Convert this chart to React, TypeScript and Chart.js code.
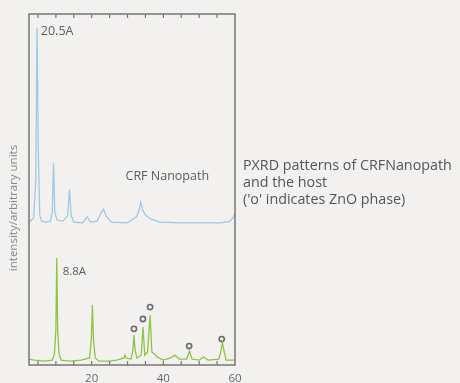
import React, { useEffect, useRef } from "react";
import { Chart, registerables } from "chart.js";

Chart.register(...registerables);

// CRF Nanopath pattern (blue), 2-theta vs. intensity (arbitrary units, offset trace)
const nanopathX = [2.5, 3.8, 4.4, 4.75, 5.1, 5.5, 6.0, 7.0, 8.5, 9.0, 9.35, 9.7, 10.3, 12.0, 13.3, 13.8, 14.3, 15.0, 17.5, 18.7, 19.7, 21.5, 22.6, 23.3, 24.0, 25.5, 30.0, 32.5, 33.3, 33.7, 34.2, 35.0, 36.5, 39.0, 45.0, 52.0, 56.0, 58.5, 59.5, 60.0];
const nanopathY = [40.7, 41.9, 52.7, 96.0, 61.3, 42.7, 41.0, 40.7, 41.0, 43.6, 57.5, 43.6, 41.3, 41.0, 42.5, 49.9, 42.5, 40.7, 40.5, 42.2, 40.7, 41.0, 43.3, 44.4, 42.5, 40.7, 40.5, 42.2, 44.2, 46.4, 44.2, 42.7, 41.6, 40.7, 40.5, 40.5, 40.5, 40.9, 42.0, 43.3];

// Host pattern (green)
const hostX = [2.5, 4.0, 7.0, 9.0, 9.6, 10.0, 10.25, 10.5, 10.9, 11.5, 14.0, 17.0, 19.4, 19.9, 20.2, 20.5, 21.0, 22.0, 25.0, 27.0, 29.0, 29.3, 29.6, 31.0, 31.5, 31.8, 32.1, 32.6, 33.8, 34.35, 34.8, 35.6, 36.3, 36.8, 37.6, 38.2, 40.0, 42.0, 43.2, 44.5, 46.5, 47.3, 48.0, 50.0, 51.2, 52.5, 55.5, 56.0, 56.5, 57.0, 57.5, 60.0];
const hostY = [1.7, 1.4, 1.1, 1.4, 3.1, 10.0, 30.5, 10.0, 3.1, 1.4, 1.1, 1.4, 2.0, 7.1, 17.1, 7.1, 2.0, 1.1, 1.1, 1.4, 2.0, 2.8, 2.0, 1.7, 4.3, 8.5, 4.3, 2.0, 2.8, 10.8, 2.8, 3.7, 14.2, 3.7, 3.1, 2.3, 1.4, 2.0, 2.8, 1.7, 1.7, 4.0, 1.7, 1.4, 2.3, 1.4, 1.7, 3.7, 6.3, 3.7, 1.4, 1.4];

// ZnO phase markers ('o')
const znoX = [31.8, 34.3, 36.3, 47.2, 56.3];
const znoY = [10.3, 13.1, 16.5, 5.4, 7.4];

// Axis ticks
const xTickValues = [5, 10, 15, 20, 25, 30, 35, 40, 45, 50, 55, 60];
const xTickLabels = [20, 40, 60];

const captionLines = ["PXRD patterns of CRFNanopath", "and the host", "('o' indicates ZnO phase)"];

const FONT = "'Open Sans', 'Noto Sans', sans-serif";

export default function App() {
  const ref = useRef<HTMLCanvasElement | null>(null);

  useEffect(() => {
    const canvas = ref.current;
    if (!canvas) return;

    const decor = {
      id: "decor",
      beforeDraw(chart: any) {
        const ctx = chart.ctx;
        ctx.save();
        ctx.fillStyle = "#f2f1ef";
        ctx.fillRect(0, 0, chart.width, chart.height);
        ctx.restore();
      },
      afterDatasetsDraw(chart: any) {
        const ctx = chart.ctx;
        const a = chart.chartArea;
        const xs = chart.scales.x;
        const ys = chart.scales.y;
        ctx.save();
        // frame
        ctx.strokeStyle = "#767676";
        ctx.lineWidth = 1.5;
        ctx.strokeRect(a.left, a.top, a.right - a.left, a.bottom - a.top);
        // inward tick marks top & bottom
        ctx.lineWidth = 1.2;
        xTickValues.forEach((v) => {
          if (v >= 60) return;
          const px = xs.getPixelForValue(v);
          ctx.beginPath();
          ctx.moveTo(px, a.bottom);
          ctx.lineTo(px, a.bottom - 4);
          ctx.moveTo(px, a.top);
          ctx.lineTo(px, a.top + 4);
          ctx.stroke();
        });
        // annotations
        ctx.fillStyle = "#5e5e5e";
        ctx.textBaseline = "middle";
        ctx.textAlign = "left";
        ctx.font = `12.5px ${FONT}`;
        ctx.fillText("20.5A", xs.getPixelForValue(5.8), ys.getPixelForValue(94.9));
        ctx.font = `11.5px ${FONT}`;
        ctx.fillText("8.8A", xs.getPixelForValue(11.9), ys.getPixelForValue(26.5));
        ctx.textAlign = "center";
        ctx.font = `12.5px ${FONT}`;
        ctx.fillText("CRF Nanopath", xs.getPixelForValue(41.1), ys.getPixelForValue(53.6));
        // y axis title
        ctx.save();
        ctx.translate(14, 208);
        ctx.rotate(-Math.PI / 2);
        ctx.fillStyle = "#858585";
        ctx.font = `11.5px ${FONT}`;
        ctx.textAlign = "center";
        ctx.fillText("intensity/arbitrary units", 0, 0);
        ctx.restore();
        // caption on the right
        ctx.fillStyle = "#555555";
        ctx.textAlign = "left";
        ctx.font = `14.3px ${FONT}`;
        captionLines.forEach((t, i) => {
          ctx.fillText(t, 243, 166 + i * 17);
        });
        ctx.restore();
      },
    };

    const chart = new Chart(canvas, {
      type: "line",
      data: {
        datasets: [
          {
            label: "CRF Nanopath",
            data: nanopathX.map((x, i) => ({ x, y: nanopathY[i] })),
            borderColor: "#9fc8e2",
            borderWidth: 1.3,
            pointRadius: 0,
            tension: 0,
            fill: false,
          },
          {
            label: "host",
            data: hostX.map((x, i) => ({ x, y: hostY[i] })),
            borderColor: "#8cc545",
            borderWidth: 1.3,
            pointRadius: 0,
            tension: 0,
            fill: false,
          },
          {
            type: "scatter",
            label: "ZnO",
            data: znoX.map((x, i) => ({ x, y: znoY[i] })),
            showLine: false,
            pointRadius: 2.6,
            pointStyle: "circle",
            pointBackgroundColor: "rgba(0,0,0,0)",
            pointBorderColor: "#6a6a6a",
            pointBorderWidth: 1.6,
          } as any,
        ],
      },
      options: {
        animation: false,
        responsive: false,
        devicePixelRatio: 1,
        layout: { padding: { left: 29, right: 225, top: 14, bottom: 0 } },
        plugins: { legend: { display: false }, tooltip: { enabled: false } },
        scales: {
          x: {
            type: "linear",
            min: 2.5,
            max: 60,
            grid: { display: false, drawTicks: false },
            border: { display: false },
            afterBuildTicks: (s: any) => {
              s.ticks = xTickValues.map((v) => ({ value: v }));
            },
            afterFit: (s: any) => {
              s.height = 18;
            },
            ticks: {
              autoSkip: false,
              maxRotation: 0,
              padding: 7,
              color: "#666666",
              font: { family: FONT, size: 11.5 },
              callback: (v: any) => (xTickLabels.includes(Number(v)) ? String(v) : ""),
            },
          },
          y: { display: false, min: 0, max: 100 },
        },
      } as any,
      plugins: [decor],
    });

    return () => chart.destroy();
  }, []);

  return (
    <div style={{ position: "fixed", left: 0, top: 0, width: 460, height: 383, background: "#f2f1ef" }}>
      <canvas ref={ref} width={460} height={383} style={{ display: "block" }} />
    </div>
  );
}
